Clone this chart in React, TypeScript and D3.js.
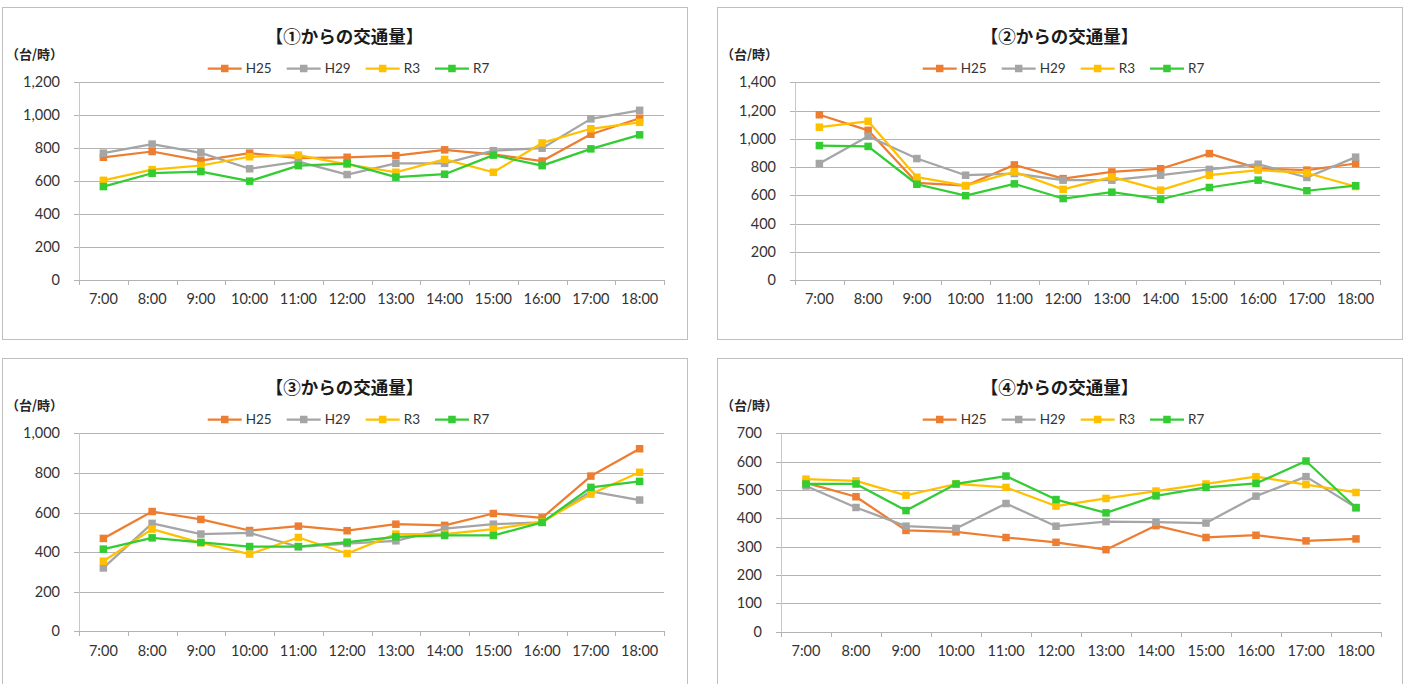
import React, { useEffect, useRef } from 'react';
import * as d3 from 'd3';

// Hours on the x axis
const hours = ['7:00', '8:00', '9:00', '10:00', '11:00', '12:00', '13:00', '14:00', '15:00', '16:00', '17:00', '18:00'];

const seriesNames = ['H25', 'H29', 'R3', 'R7'];
const seriesColors = ['#ED7D31', '#A5A5A5', '#FFC000', '#33CC33'];

// ① traffic volume (台/時)
const route1H25 = [745, 780, 725, 770, 740, 745, 755, 790, 762, 722, 885, 982];
const route1H29 = [770, 825, 772, 675, 718, 640, 708, 708, 785, 800, 978, 1030];
const route1R3 = [605, 670, 695, 748, 758, 702, 654, 732, 654, 832, 918, 957];
const route1R7 = [567, 648, 658, 600, 694, 707, 624, 642, 758, 694, 796, 881];

// ② traffic volume
const route2H25 = [1170, 1060, 688, 668, 815, 718, 765, 788, 895, 790, 778, 825];
const route2H29 = [825, 1018, 860, 742, 754, 707, 707, 742, 783, 820, 726, 870];
const route2R3 = [1082, 1124, 728, 668, 766, 642, 730, 636, 742, 778, 758, 662];
const route2R7 = [952, 946, 678, 597, 681, 577, 622, 572, 655, 707, 632, 668];

// ③ traffic volume
const route3H25 = [469, 605, 565, 509, 531, 508, 541, 535, 595, 573, 784, 922];
const route3H29 = [320, 545, 491, 497, 427, 443, 457, 519, 541, 550, 707, 663];
const route3R3 = [354, 516, 447, 390, 474, 393, 491, 491, 516, 553, 693, 803];
const route3R7 = [415, 472, 449, 428, 428, 450, 477, 484, 484, 550, 727, 757];

// ④ traffic volume
const route4H25 = [525, 476, 357, 352, 332, 315, 289, 374, 332, 340, 320, 327];
const route4H29 = [514, 438, 372, 364, 452, 372, 388, 386, 383, 478, 547, 438];
const route4R3 = [538, 532, 481, 521, 509, 443, 470, 496, 521, 547, 519, 491];
const route4R7 = [521, 521, 427, 521, 549, 466, 419, 479, 509, 523, 602, 437];

const yTicks1 = [0, 200, 400, 600, 800, 1000, 1200];
const yTicks2 = [0, 200, 400, 600, 800, 1000, 1200, 1400];
const yTicks3 = [0, 200, 400, 600, 800, 1000];
const yTicks4 = [0, 100, 200, 300, 400, 500, 600, 700];

const titles = ['【①からの交通量】', '【②からの交通量】', '【③からの交通量】', '【④からの交通量】'];

const panels = [
    { title: titles[0], ticks: yTicks1, series: [route1H25, route1H29, route1R3, route1R7],
      box: { x: 2, y: 7, w: 685, h: 332 }, plot: { left: 79, right: 664, top: 82.3, bottom: 280 } },
    { title: titles[1], ticks: yTicks2, series: [route2H25, route2H29, route2R3, route2R7],
      box: { x: 717, y: 7, w: 685, h: 332 }, plot: { left: 795, right: 1380, top: 82.3, bottom: 280 } },
    { title: titles[2], ticks: yTicks3, series: [route3H25, route3H29, route3R3, route3R7],
      box: { x: 2, y: 358, w: 685, h: 332 }, plot: { left: 79, right: 664, top: 433.3, bottom: 631.3 } },
    { title: titles[3], ticks: yTicks4, series: [route4H25, route4H29, route4R3, route4R7],
      box: { x: 717, y: 358, w: 685, h: 332 }, plot: { left: 781, right: 1381, top: 433.3, bottom: 631.5 } }
];

const numFont = 'Lato, "Noto Sans", sans-serif';
const jpFont = '"Noto Sans CJK JP", "Noto Sans", sans-serif';

const App: React.FC = () => {
    const svgRef = useRef<SVGSVGElement>(null);

    useEffect(() => {
        if (!svgRef.current) return;
        const svg = d3.select(svgRef.current);
        svg.selectAll('*').remove();

        svg.append('rect')
            .attr('width', 1408).attr('height', 684)
            .attr('fill', '#ffffff');

        panels.forEach(p => {
            const { box, plot } = p;
            const g = svg.append('g');

            // Chart frame
            g.append('rect')
                .attr('x', box.x + 0.5).attr('y', box.y + 0.5)
                .attr('width', box.w).attr('height', box.h)
                .attr('fill', '#ffffff')
                .attr('stroke', '#bfbfbf')
                .attr('stroke-width', 1);

            const x = d3.scaleBand<string>()
                .domain(hours)
                .range([plot.left, plot.right])
                .padding(0);

            const yMax = p.ticks[p.ticks.length - 1];
            const y = d3.scaleLinear()
                .domain([0, yMax])
                .range([plot.bottom, plot.top]);

            // Grid lines (with the short outer tick on the left)
            g.selectAll('.grid')
                .data(p.ticks)
                .enter().append('line')
                .attr('class', 'grid')
                .attr('x1', plot.left - 5)
                .attr('x2', plot.right)
                .attr('y1', d => Math.round(y(d)) + 0.5)
                .attr('y2', d => Math.round(y(d)) + 0.5)
                .attr('stroke', '#b3b3b3')
                .attr('stroke-width', 1);

            // Vertical axis line
            g.append('line')
                .attr('x1', plot.left + 0.5).attr('x2', plot.left + 0.5)
                .attr('y1', plot.top).attr('y2', plot.bottom)
                .attr('stroke', '#c8c8c8')
                .attr('stroke-width', 1);

            // Category boundary ticks on the x axis
            const bounds = d3.range(hours.length + 1).map(i => plot.left + i * x.step());
            g.selectAll('.xtick')
                .data(bounds)
                .enter().append('line')
                .attr('class', 'xtick')
                .attr('x1', d => Math.round(d) + 0.5)
                .attr('x2', d => Math.round(d) + 0.5)
                .attr('y1', Math.round(plot.bottom))
                .attr('y2', Math.round(plot.bottom) + 5)
                .attr('stroke', '#b3b3b3')
                .attr('stroke-width', 1);

            // Y axis labels
            const yAxis = d3.axisLeft(y)
                .tickValues(p.ticks)
                .tickSize(0)
                .tickPadding(0)
                .tickFormat(d => d3.format(',')(d as number));

            const yg = g.append('g')
                .attr('transform', `translate(${plot.left - 19},0)`)
                .call(yAxis);
            yg.select('.domain').remove();
            yg.selectAll('text')
                .attr('font-family', numFont)
                .attr('font-size', 14.5)
                .attr('fill', '#333333');

            // X axis labels
            const xAxis = d3.axisBottom(x).tickSize(0).tickPadding(0);
            const xg = g.append('g')
                .attr('transform', `translate(0,${plot.bottom + 14})`)
                .call(xAxis);
            xg.select('.domain').remove();
            xg.selectAll('text')
                .attr('font-family', numFont)
                .attr('font-size', 14.5)
                .attr('fill', '#333333');

            // Title
            g.append('text')
                .attr('x', box.x + box.w / 2)
                .attr('y', box.y + 29.5)
                .attr('dy', '0.35em')
                .attr('text-anchor', 'middle')
                .attr('font-family', jpFont)
                .attr('font-weight', 'bold')
                .attr('font-size', 17.5)
                .attr('fill', '#1a1a1a')
                .text(p.title);

            // Unit label
            g.append('text')
                .attr('x', box.x + 4)
                .attr('y', box.y + 47)
                .attr('dy', '0.35em')
                .attr('font-family', jpFont)
                .attr('font-weight', 'bold')
                .attr('font-size', 13)
                .attr('fill', '#262626')
                .text('（台/時）');

            // Legend
            const legend = g.append('g');
            let cursor = 0;
            seriesNames.forEach((name, i) => {
                const item = legend.append('g').attr('transform', `translate(${cursor},0)`);
                item.append('line')
                    .attr('x1', 0).attr('x2', 34)
                    .attr('y1', 0).attr('y2', 0)
                    .attr('stroke', seriesColors[i])
                    .attr('stroke-width', 2.25);
                item.append('rect')
                    .attr('x', 17 - 3.75).attr('y', -3.75)
                    .attr('width', 7.5).attr('height', 7.5)
                    .attr('fill', seriesColors[i]);
                const t = item.append('text')
                    .attr('x', 38)
                    .attr('dy', '0.35em')
                    .attr('font-family', numFont)
                    .attr('font-size', 13.5)
                    .attr('fill', '#333333')
                    .text(name);
                const w = (t.node() as SVGTextElement).getComputedTextLength();
                cursor += 38 + w + (i < seriesNames.length - 1 ? 15 : 0);
            });
            legend.attr('transform', `translate(${box.x + box.w / 2 + 4 - cursor / 2},${box.y + 61.5})`);

            // Series lines and markers
            const line = d3.line<number>()
                .x((_, i) => (x(hours[i]) as number) + x.bandwidth() / 2)
                .y(d => y(d));

            p.series.forEach((values, si) => {
                g.append('path')
                    .datum(values)
                    .attr('fill', 'none')
                    .attr('stroke', seriesColors[si])
                    .attr('stroke-width', 2.25)
                    .attr('stroke-linejoin', 'round')
                    .attr('d', line);

                g.selectAll(`.mk-${si}`)
                    .data(values)
                    .enter().append('rect')
                    .attr('class', `mk-${si}`)
                    .attr('x', (_, i) => (x(hours[i]) as number) + x.bandwidth() / 2 - 3.75)
                    .attr('y', d => y(d) - 3.75)
                    .attr('width', 7.5)
                    .attr('height', 7.5)
                    .attr('fill', seriesColors[si]);
            });
        });
    }, []);

    return (
        <svg
            ref={svgRef}
            width={1408}
            height={684}
            style={{ position: 'absolute', left: 0, top: 0, display: 'block' }}
        />
    );
};

export default App;
